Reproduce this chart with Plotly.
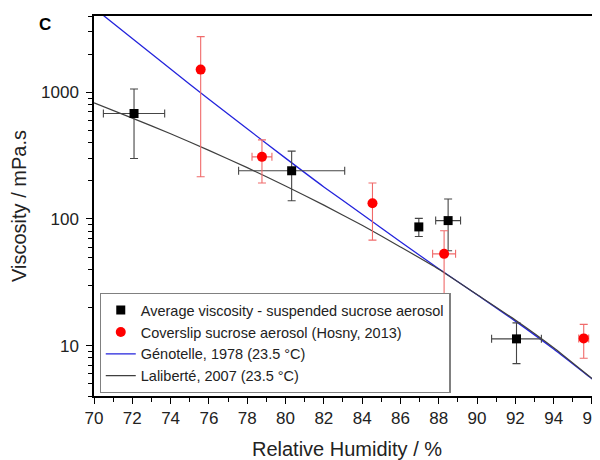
import plotly.graph_objects as go

# ---- data ----
avg_rh = [72.09, 80.32, 86.96, 88.49, 92.06]
avg_visc = [680, 240, 86.5, 97, 11.3]
avg_visc_hi = [1060, 343, 101, 143.6, 15.1]
avg_visc_lo = [300, 139, 72.6, 56, 7.2]
avg_rh_err = [1.6, 2.77, 0.0, 0.65, 1.3]

cov_rh = [75.57, 78.77, 84.54, 88.28, 95.57]
cov_visc = [1510, 309, 133, 53, 11.4]
cov_visc_hi = [2750, 421, 192, 80.7, 14.7]
cov_visc_lo = [215, 192, 68, 23.4, 7.94]
cov_rh_err = [0.0, 0.52, 0.0, 0.6, 0.26]

gen_rh = [70, 72, 74, 76, 78, 80, 82, 84, 86, 88, 90, 92, 94, 96, 96.42]
gen_visc = [4630, 2656, 1525, 879, 515, 302, 179, 109, 66, 40.4, 25.2, 15.6, 9.4, 5.47, 4.93]

lal_rh = [70, 72, 74, 76, 78, 80, 82, 84, 86, 88, 90, 92, 94, 96, 96.42]
lal_visc = [824, 625, 470, 348, 254, 182, 128.5, 89, 60.1, 40.1, 25.3, 15.9, 9.6, 5.5, 4.95]

x_ticks = list(range(70, 97, 2))
y_ticks = [10, 100, 1000]
y_minor = [m * d for d in (1, 10, 100, 1000) for m in range(2, 10) if 4 <= m * d <= 4000]

names = [
    "Average viscosity - suspended sucrose aerosol",
    "Coverslip sucrose aerosol (Hosny, 2013)",
    "Génotelle, 1978 (23.5 °C)",
    "Laliberté, 2007 (23.5 °C)",
]

BLUE = "#2323dc"
GRAY = "#3f3f3f"

fig = go.Figure()

fig.add_trace(go.Scatter(
    x=gen_rh, y=gen_visc, mode="lines", name=names[2], legendrank=3,
    line=dict(color=BLUE, width=1.3, shape="spline", smoothing=0.6),
))
fig.add_trace(go.Scatter(
    x=lal_rh, y=lal_visc, mode="lines", name=names[3], legendrank=4,
    line=dict(color=GRAY, width=1.2, shape="spline", smoothing=0.6),
))

fig.add_trace(go.Scatter(
    x=avg_rh, y=avg_visc, mode="markers", name=names[0], legendrank=1,
    marker=dict(symbol="square", size=9, color="black"),
    error_y=dict(type="data", symmetric=False,
                 array=[h - v for h, v in zip(avg_visc_hi, avg_visc)],
                 arrayminus=[v - l for v, l in zip(avg_visc, avg_visc_lo)],
                 color="#454545", thickness=1.1, width=4),
    error_x=dict(type="data", array=avg_rh_err, color="#454545", thickness=1.1, width=4),
))
fig.add_trace(go.Scatter(
    x=cov_rh, y=cov_visc, mode="markers", name=names[1], legendrank=2,
    marker=dict(symbol="circle", size=10, color="#ff0000"),
    error_y=dict(type="data", symmetric=False,
                 array=[h - v for h, v in zip(cov_visc_hi, cov_visc)],
                 arrayminus=[v - l for v, l in zip(cov_visc, cov_visc_lo)],
                 color="#f06a6a", thickness=1.1, width=4),
    error_x=dict(type="data", array=cov_rh_err, color="#f06a6a", thickness=1.1, width=4),
))

tick_font = dict(family="Liberation Sans, Arial, sans-serif", size=17, color="#222")

# The page body has an 8px margin, so the figure is 592x452 placed at (8, 8).
fig.update_layout(
    width=592, height=452,
    margin=dict(l=86, r=0, t=8, b=64),
    plot_bgcolor="white", paper_bgcolor="white",
    font=dict(family="Liberation Sans, Arial, sans-serif", color="#222"),
    showlegend=True,
    legend=dict(x=0.011, y=0.008, xanchor="left", yanchor="bottom",
                bgcolor="white", bordercolor="#808080", borderwidth=1.2,
                font=dict(family="Liberation Sans, Arial, sans-serif", size=14.5, color="#222"),
                tracegroupgap=0),
    xaxis=dict(
        range=[70, 96.42], tickvals=x_ticks, ticks="outside", ticklen=6,
        tickwidth=1.3, tickcolor="black", showline=True, linecolor="black",
        linewidth=1.5, mirror=True, showgrid=False, zeroline=False,
        tickfont=tick_font, ticklabelstandoff=0, ticklabeloverflow="allow",
        minor=dict(dtick=1, ticks="outside", ticklen=4, tickwidth=1.2, tickcolor="black", showgrid=False),
        title=dict(text="Relative Humidity / %", font=dict(size=20, color="#222"), standoff=16),
        automargin=False,
    ),
    yaxis=dict(
        type="log", range=[0.60206, 3.60206], tickvals=y_ticks,
        ticktext=[str(v) for v in y_ticks],
        ticks="outside", ticklen=6, tickwidth=1.3, tickcolor="black",
        showline=True, linecolor="black", linewidth=1.5, mirror=False,
        showgrid=False, zeroline=False, tickfont=tick_font, ticklabelstandoff=4,
        minor=dict(tickvals=y_minor, ticks="outside", ticklen=4, tickwidth=1.2, tickcolor="black", showgrid=False),
        title=dict(text="Viscosity / mPa.s", font=dict(size=20, color="#222"), standoff=12),
        automargin=False,
    ),
    annotations=[dict(text="<b>C</b>", xref="paper", yref="paper",
                      x=(37 - 86) / 506, y=(452 - 64 - 17) / 380,
                      xanchor="center", yanchor="middle",
                      showarrow=False, font=dict(size=17, color="black"))],
)

fig.write_html("out.html")
